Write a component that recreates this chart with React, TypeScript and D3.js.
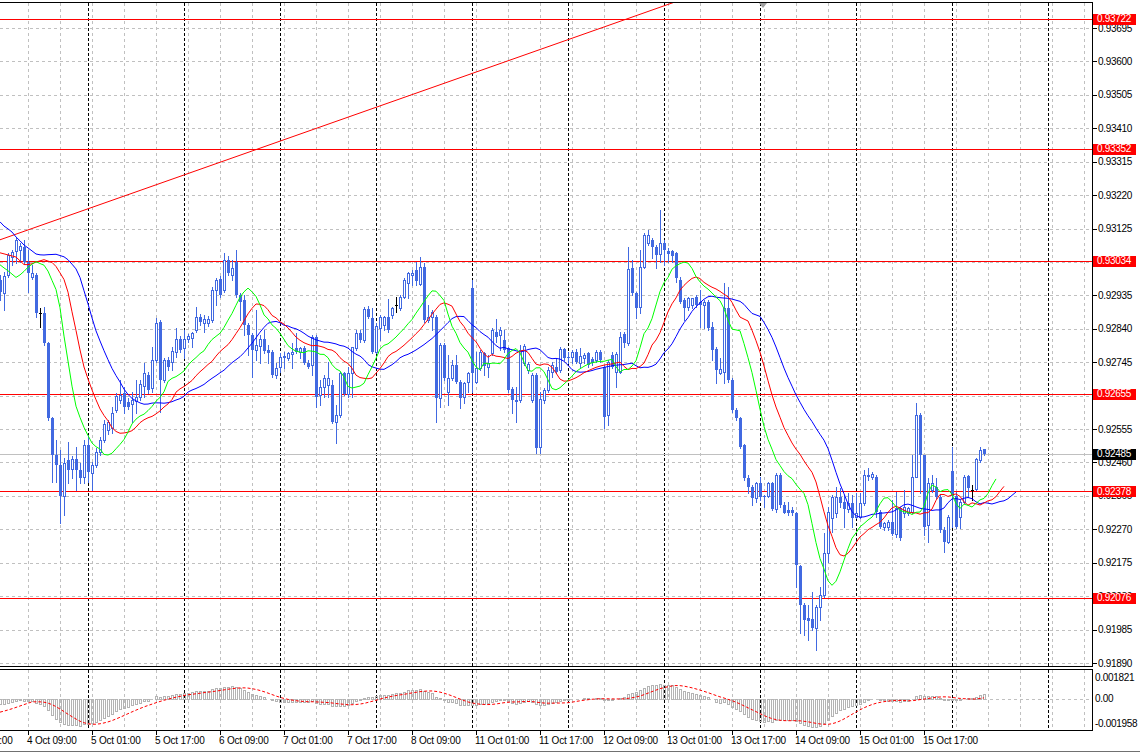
import * as d3 from 'd3';

// H1 bars, 4 Oct 02:00 .. 18 Oct 08:00 (bar index = position on the time axis)
const open = [
  0.92979, 0.92942, 0.92993, 0.93044, 0.93061, 0.93064, 0.93073, 0.9303, 0.92988, 0.92993,
  0.92885, 0.92885, 0.928, 0.92587, 0.92481, 0.92453, 0.92365, 0.92467, 0.92442, 0.9247,
  0.92439, 0.92419, 0.9251, 0.9243, 0.92453, 0.9249, 0.92524, 0.92553, 0.92558, 0.92609,
  0.92638, 0.92658, 0.92632, 0.92626, 0.92635, 0.92646, 0.92678, 0.92709, 0.92672, 0.92752,
  0.9286, 0.92695, 0.92752, 0.92746, 0.92774, 0.92811, 0.92786, 0.92811, 0.92814, 0.92837,
  0.92874, 0.92857, 0.92857, 0.92865, 0.92951, 0.92982, 0.92951, 0.93036, 0.92993, 0.9303,
  0.92936, 0.92922, 0.92851, 0.92823, 0.9278, 0.92791, 0.92811, 0.9278, 0.92774, 0.92709,
  0.92732, 0.92763, 0.92757, 0.92769, 0.92786, 0.92774, 0.92786, 0.92743, 0.92737, 0.92817,
  0.92652, 0.92675, 0.9268, 0.9268, 0.92575, 0.92595, 0.92715, 0.92655, 0.92715, 0.92786,
  0.92828, 0.92808, 0.92897, 0.92871, 0.92774, 0.92842, 0.92851, 0.92874, 0.92879, 0.92908,
  0.92899, 0.92931, 0.92971, 0.92993, 0.93007, 0.92968, 0.93016, 0.92865, 0.92874, 0.92874,
  0.92643, 0.92794, 0.92661, 0.927, 0.92737, 0.92689, 0.92646, 0.92689, 0.92956, 0.92689,
  0.92729, 0.92771, 0.92732, 0.92771, 0.92831, 0.92823, 0.92808, 0.92786, 0.92669, 0.92635,
  0.92638, 0.92743, 0.92723, 0.92638, 0.92709, 0.92504, 0.92638, 0.92666, 0.92718, 0.92732,
  0.92723, 0.92783, 0.9276, 0.9276, 0.92774, 0.92743, 0.92757, 0.92771, 0.92754, 0.92752,
  0.92774, 0.92732, 0.92595, 0.92766, 0.92718, 0.92718, 0.92825, 0.928, 0.93013, 0.92942,
  0.92902, 0.93016, 0.93084, 0.93093, 0.93073, 0.93053, 0.93084, 0.93061, 0.93061, 0.93056,
  0.92979, 0.92922, 0.92902, 0.92908, 0.92931, 0.92916, 0.92908, 0.92916, 0.92845, 0.92783,
  0.92715, 0.92718, 0.92899, 0.92695, 0.92609, 0.92587, 0.9251, 0.92416, 0.9239, 0.92359,
  0.92402, 0.92365, 0.92365, 0.92402, 0.92328, 0.92425, 0.92339, 0.92325, 0.92325, 0.92317,
  0.92166, 0.92055, 0.92018, 0.92015, 0.9199, 0.92049, 0.92083, 0.92203, 0.92302, 0.92317,
  0.92362, 0.92348, 0.92328, 0.92345, 0.92305, 0.92305, 0.92345, 0.92425, 0.92419, 0.92419,
  0.92319, 0.92277, 0.92277, 0.92291, 0.92257, 0.92331, 0.92317, 0.92317, 0.92319, 0.92419,
  0.92595, 0.92481, 0.92282, 0.92382, 0.9239, 0.92362, 0.92268, 0.92234, 0.92436, 0.92365,
  0.92305, 0.92348, 0.92422, 0.92382, 0.92385, 0.92467, 0.92499,
];
const high = [
  0.92993, 0.93002, 0.93056, 0.93064, 0.93098, 0.93084, 0.93093, 0.93064, 0.93022, 0.92999,
  0.92899, 0.92902, 0.92803, 0.92589, 0.92524, 0.92496, 0.92473, 0.92518, 0.92479, 0.92504,
  0.92459, 0.92524, 0.92538, 0.92462, 0.92501, 0.92533, 0.92581, 0.92581, 0.92618, 0.92658,
  0.92695, 0.92675, 0.92643, 0.92661, 0.92695, 0.92695, 0.92743, 0.92718, 0.92788, 0.92871,
  0.92865, 0.92757, 0.9276, 0.92788, 0.92842, 0.9282, 0.92837, 0.92825, 0.92831, 0.92902,
  0.92882, 0.92879, 0.92877, 0.92959, 0.92985, 0.9299, 0.93056, 0.93047, 0.93036, 0.93064,
  0.92942, 0.92936, 0.92857, 0.92828, 0.92894, 0.92823, 0.92837, 0.92794, 0.9278, 0.92743,
  0.92771, 0.92774, 0.92774, 0.928, 0.92828, 0.92788, 0.92791, 0.92752, 0.92823, 0.92823,
  0.92695, 0.92709, 0.92746, 0.92695, 0.92624, 0.92718, 0.92718, 0.92732, 0.92788, 0.92837,
  0.92837, 0.92902, 0.92905, 0.92899, 0.92857, 0.92879, 0.92877, 0.92925, 0.92902, 0.92931,
  0.92936, 0.92985, 0.93002, 0.93007, 0.9303, 0.93044, 0.93027, 0.92908, 0.92894, 0.92879,
  0.928, 0.928, 0.92766, 0.92752, 0.92766, 0.92695, 0.92689, 0.92718, 0.92979, 0.92774,
  0.9278, 0.92774, 0.92766, 0.92842, 0.92868, 0.92845, 0.92837, 0.92788, 0.92675, 0.92675,
  0.92794, 0.92797, 0.92746, 0.92715, 0.92715, 0.92661, 0.92672, 0.92732, 0.92746, 0.92757,
  0.92788, 0.92786, 0.92774, 0.9278, 0.92783, 0.92786, 0.92771, 0.92774, 0.9276, 0.9278,
  0.9278, 0.92737, 0.92752, 0.92774, 0.92774, 0.92831, 0.92831, 0.93073, 0.93036, 0.92945,
  0.93064, 0.93113, 0.93121, 0.93098, 0.93078, 0.93178, 0.93093, 0.9307, 0.93064, 0.93058,
  0.92988, 0.92928, 0.92931, 0.92928, 0.92936, 0.92951, 0.92922, 0.92922, 0.9286, 0.92788,
  0.92757, 0.92971, 0.92959, 0.927, 0.92615, 0.92589, 0.92513, 0.92425, 0.92396, 0.92405,
  0.92419, 0.92368, 0.92405, 0.92405, 0.9243, 0.9243, 0.92348, 0.92348, 0.92334, 0.92319,
  0.92169, 0.92061, 0.92055, 0.92092, 0.92055, 0.92106, 0.9226, 0.92334, 0.92368, 0.9239,
  0.92388, 0.92368, 0.92373, 0.92368, 0.92373, 0.92373, 0.92439, 0.92444, 0.92433, 0.92425,
  0.92325, 0.92291, 0.92297, 0.92354, 0.92376, 0.92334, 0.92382, 0.92334, 0.92481, 0.92629,
  0.92601, 0.92481, 0.92416, 0.92425, 0.92416, 0.92368, 0.92277, 0.92311, 0.92504, 0.92376,
  0.92354, 0.92425, 0.92425, 0.92396, 0.92473, 0.92504, 0.92499,
];
const low = [
  0.92922, 0.92894, 0.92988, 0.93022, 0.93027, 0.9303, 0.93027, 0.92945, 0.92982, 0.92874,
  0.92845, 0.92794, 0.92581, 0.92405, 0.92405, 0.92288, 0.92311, 0.92402, 0.92416, 0.92382,
  0.92402, 0.92402, 0.92405, 0.92382, 0.92447, 0.92481, 0.92518, 0.92541, 0.92544, 0.92604,
  0.92629, 0.92601, 0.92612, 0.92575, 0.92601, 0.92638, 0.92646, 0.92658, 0.92661, 0.92746,
  0.92604, 0.92689, 0.92723, 0.92723, 0.9276, 0.92774, 0.92757, 0.92803, 0.92788, 0.92831,
  0.92851, 0.92831, 0.92848, 0.9286, 0.92908, 0.92931, 0.92945, 0.92993, 0.92979, 0.92931,
  0.92865, 0.92823, 0.92766, 0.92703, 0.92752, 0.92743, 0.92771, 0.92743, 0.92703, 0.927,
  0.92718, 0.92729, 0.92752, 0.92729, 0.92771, 0.92757, 0.9274, 0.92729, 0.92709, 0.92618,
  0.92624, 0.92646, 0.92646, 0.92572, 0.92516, 0.92589, 0.92652, 0.92646, 0.92646, 0.9278,
  0.92803, 0.92803, 0.92871, 0.92771, 0.92771, 0.92808, 0.92837, 0.92831, 0.92871, 0.92888,
  0.92894, 0.92928, 0.92928, 0.92965, 0.92965, 0.92965, 0.9286, 0.9286, 0.92837, 0.92575,
  0.92618, 0.92695, 0.92624, 0.92695, 0.92686, 0.92615, 0.92629, 0.92661, 0.92661, 0.92686,
  0.92723, 0.92709, 0.92703, 0.92766, 0.92803, 0.9278, 0.92774, 0.92661, 0.92601, 0.92575,
  0.92632, 0.92737, 0.92715, 0.92632, 0.92487, 0.92487, 0.92629, 0.92661, 0.92703, 0.92715,
  0.92718, 0.92752, 0.92743, 0.92743, 0.92743, 0.92732, 0.92743, 0.92732, 0.92737, 0.92746,
  0.92746, 0.92558, 0.92567, 0.92729, 0.92675, 0.92715, 0.92788, 0.92794, 0.92936, 0.92871,
  0.92885, 0.93013, 0.93078, 0.93042, 0.93013, 0.9303, 0.93022, 0.9303, 0.9303, 0.92973,
  0.92914, 0.92865, 0.92894, 0.92899, 0.92902, 0.92845, 0.92842, 0.92837, 0.92752, 0.92686,
  0.92712, 0.92686, 0.92689, 0.92604, 0.92581, 0.92501, 0.9241, 0.92374, 0.92339, 0.92348,
  0.92354, 0.92334, 0.92362, 0.92325, 0.92319, 0.92334, 0.92317, 0.92311, 0.92311, 0.92106,
  0.91975, 0.9197, 0.91955, 0.91984, 0.91927, 0.92012, 0.92078, 0.92177, 0.92262, 0.92305,
  0.92334, 0.92277, 0.92319, 0.92277, 0.92302, 0.92302, 0.92339, 0.9241, 0.92413, 0.92305,
  0.92274, 0.92268, 0.92268, 0.92254, 0.92248, 0.9224, 0.92305, 0.92311, 0.92317, 0.92419,
  0.92374, 0.92254, 0.92234, 0.92376, 0.92359, 0.92262, 0.92206, 0.92231, 0.92277, 0.92274,
  0.92274, 0.92345, 0.92362, 0.92354, 0.92382, 0.92462, 0.92481,
];
const close = [
  0.92945, 0.9299, 0.9305, 0.93058, 0.93093, 0.93076, 0.9303, 0.92999, 0.92999, 0.92885,
  0.92885, 0.928, 0.92587, 0.92481, 0.92453, 0.92365, 0.92459, 0.92439, 0.9247, 0.92439,
  0.92416, 0.9251, 0.92433, 0.92453, 0.9249, 0.92524, 0.9257, 0.92575, 0.92601, 0.92649,
  0.92652, 0.92618, 0.92618, 0.92638, 0.92646, 0.92683, 0.92715, 0.92666, 0.92752, 0.92857,
  0.92695, 0.92752, 0.92732, 0.92777, 0.92811, 0.9278, 0.92811, 0.9282, 0.92828, 0.92874,
  0.9286, 0.92868, 0.92868, 0.92951, 0.92979, 0.92936, 0.93036, 0.92999, 0.93013, 0.92936,
  0.92916, 0.92851, 0.92823, 0.9278, 0.92794, 0.92811, 0.92777, 0.92771, 0.92709, 0.92729,
  0.9276, 0.92757, 0.92771, 0.92774, 0.92774, 0.92786, 0.92743, 0.92732, 0.92817, 0.92646,
  0.92675, 0.927, 0.927, 0.92575, 0.92595, 0.92715, 0.92655, 0.92715, 0.92788, 0.92828,
  0.92808, 0.92897, 0.92874, 0.92774, 0.92848, 0.92874, 0.92874, 0.92837, 0.92899, 0.92908,
  0.92931, 0.92979, 0.92999, 0.92999, 0.92976, 0.93016, 0.92865, 0.92874, 0.92888, 0.92643,
  0.92794, 0.927, 0.927, 0.92737, 0.92689, 0.92643, 0.92686, 0.92715, 0.92715, 0.92729,
  0.92774, 0.92735, 0.92743, 0.92837, 0.92817, 0.92837, 0.9278, 0.92666, 0.92638, 0.92638,
  0.9278, 0.92791, 0.9274, 0.92709, 0.92501, 0.9264, 0.92666, 0.92723, 0.92737, 0.92718,
  0.92783, 0.92757, 0.92757, 0.92774, 0.92746, 0.92763, 0.92766, 0.92737, 0.92743, 0.92774,
  0.92752, 0.92589, 0.92746, 0.92732, 0.92769, 0.92817, 0.928, 0.9301, 0.92942, 0.92899,
  0.93016, 0.93107, 0.93107, 0.93073, 0.9305, 0.93084, 0.93064, 0.93053, 0.93047, 0.92985,
  0.92916, 0.92899, 0.92928, 0.92928, 0.92908, 0.92908, 0.92916, 0.92842, 0.9278, 0.92723,
  0.92726, 0.92899, 0.92695, 0.92609, 0.92587, 0.92504, 0.92416, 0.9239, 0.92359, 0.92402,
  0.92362, 0.92362, 0.92402, 0.92328, 0.92425, 0.92339, 0.92317, 0.92317, 0.92317, 0.92169,
  0.92055, 0.92012, 0.92009, 0.9199, 0.92049, 0.92083, 0.92203, 0.92319, 0.92362, 0.92362,
  0.92345, 0.92328, 0.92345, 0.92302, 0.92317, 0.92345, 0.92425, 0.92419, 0.92427, 0.92319,
  0.92277, 0.92288, 0.92291, 0.92257, 0.92331, 0.92245, 0.92334, 0.92331, 0.92419, 0.92595,
  0.92481, 0.92277, 0.92402, 0.92402, 0.92362, 0.92268, 0.92234, 0.92305, 0.92365, 0.92277,
  0.92348, 0.92419, 0.92388, 0.92382, 0.9247, 0.92496, 0.92485,
];

// Alligator values shown before the first bar (jaw 13/8, teeth 8/5, lips 5/3)
const jawLead = [0.93144, 0.93132, 0.93124, 0.93115, 0.93101, 0.9309, 0.93078, 0.9307];
const teethLead = [0.93056, 0.93053, 0.9305, 0.93047, 0.93044];
const lipsLead = [0.93022, 0.93013, 0.93005];
// MACD(12,26,9) state at the left edge: fast EMA, slow EMA, signal
const macdSeed = [0.93035, 0.9306, -0.0009];

const priceTicks = [
  0.93695, 0.936, 0.93505, 0.9341, 0.93315, 0.9322, 0.93125, 0.9303, 0.92935, 0.9284,
  0.92745, 0.9265, 0.92555, 0.9246, 0.92365, 0.9227, 0.92175, 0.9208, 0.91985, 0.9189,
];
const levels = [0.93722, 0.93352, 0.93034, 0.92655, 0.92378, 0.92076];
const bid = 0.92485;
const trendBars = [0, 168];
const trendPrices = [0.93093, 0.93766];
const macdTicks = [0.001821, 0, -0.001958];
const macdTickLabels = ['0.001821', '0.00', '-0.001958'];
const timeLabels = [
  '1 Oct 17:00', '4 Oct 09:00', '5 Oct 01:00', '5 Oct 17:00', '6 Oct 09:00', '7 Oct 01:00',
  '7 Oct 17:00', '8 Oct 09:00', '11 Oct 01:00', '11 Oct 17:00', '12 Oct 09:00', '13 Oct 01:00',
  '13 Oct 17:00', '14 Oct 09:00', '15 Oct 01:00', '15 Oct 17:00',
];
const timeLabelBars = d3.range(-9, 247, 16);
const daySepBars = d3.range(22, 273, 24);
const gridBars = d3.range(7, 273, 8);
const shiftMarkBar = 190.75;

const CANDLE = '#4169e1';
const GRID = '#c0c0c0';
const FONT = '"Liberation Sans", Arial, sans-serif';

const x = d3.scaleLinear().domain([0, 273]).range([0, 1092]);
const y = d3.scaleLinear().domain([0.9189, 0.93695]).range([663, 28]);
const ym = d3.scaleLinear().domain([macdTicks[2], macdTicks[0]]).range([730, 670]);
const crisp = (v: number) => Math.round(v) + 0.5;

// smoothed MA of the median price, drawn shifted forward by lead.length bars
function alligator(lead: number[], period: number) {
  const shift = lead.length;
  const pts: [number, number][] = lead.map((v, j) => [j, v]);
  let s = lead[shift - 1];
  close.forEach((_, t) => {
    s = (s * (period - 1) + (high[t] + low[t]) / 2) / period;
    pts.push([t + shift, s]);
  });
  return pts;
}

const macdMain: number[] = [];
let ef = macdSeed[0];
let es = macdSeed[1];
close.forEach((c) => {
  ef += ((c - ef) * 2) / 13;
  es += ((c - es) * 2) / 27;
  macdMain.push(ef - es);
});
const macdSignal = macdMain.map(
  (_, t) => d3.sum(d3.range(t - 8, t + 1), (k) => (k >= 0 ? macdMain[k] : macdSeed[2])) / 9
);

export default function App() {
  const line = d3
    .line<[number, number]>()
    .x((d) => x(d[0]))
    .y((d) => y(d[1]));
  const sigLine = d3
    .line<number>()
    .x((_, i) => x(i))
    .y((d) => ym(d));
  const trend = d3.scaleLinear().domain(trendBars).range(trendPrices);

  return (
    <svg
      width={1140}
      height={754}
      style={{ position: 'absolute', left: 0, top: 0 }}
      fontFamily={FONT}
      fontSize={10}
    >
      <defs>
        <clipPath id="mainClip">
          <rect x={0} y={3} width={1092} height={663} />
        </clipPath>
        <clipPath id="oscClip">
          <rect x={0} y={670} width={1092} height={60} />
        </clipPath>
      </defs>
      <rect width={1140} height={754} fill="#fff" />

      {/* grid */}
      <g shapeRendering="crispEdges" stroke={GRID} strokeDasharray="3,3">
        {priceTicks.map((p) => (
          <line key={p} x1={0} x2={1092} y1={crisp(y(p))} y2={crisp(y(p))} />
        ))}
        <line x1={0} x2={1092} y1={crisp(ym(0))} y2={crisp(ym(0))} />
        {gridBars.map((b) => (
          <g key={b}>
            <line x1={crisp(x(b))} x2={crisp(x(b))} y1={3} y2={666} />
            <line x1={crisp(x(b))} x2={crisp(x(b))} y1={670} y2={730} />
          </g>
        ))}
      </g>
      <g shapeRendering="crispEdges" stroke="#000" strokeDasharray="3,2">
        {daySepBars.map((b) => (
          <g key={b}>
            <line x1={crisp(x(b))} x2={crisp(x(b))} y1={3} y2={666} />
            <line x1={crisp(x(b))} x2={crisp(x(b))} y1={670} y2={730} />
          </g>
        ))}
      </g>

      <g clipPath="url(#mainClip)">
        {/* levels */}
        <g shapeRendering="crispEdges">
          {levels.map((p) => (
            <line key={p} x1={0} x2={1092} y1={crisp(y(p))} y2={crisp(y(p))} stroke="#ff0000" />
          ))}
          <line x1={0} x2={1092} y1={crisp(y(bid))} y2={crisp(y(bid))} stroke="#c0c0c0" />
        </g>
        <line
          x1={x(trendBars[0])}
          y1={y(trendPrices[0])}
          x2={x(273)}
          y2={y(trend(273))}
          stroke="#ff0000"
        />

        {/* candles */}
        <g shapeRendering="crispEdges">
          {close.map((c, i) => {
            const o = open[i];
            const cx = Math.round(x(i));
            const top = Math.round(y(Math.max(o, c)));
            const bot = Math.round(y(Math.min(o, c)));
            const doji = o === c;
            const col = doji ? '#000' : CANDLE;
            return (
              <g key={i}>
                <line
                  x1={cx + 0.5}
                  x2={cx + 0.5}
                  y1={Math.round(y(high[i]))}
                  y2={Math.round(y(low[i])) + 1}
                  stroke={col}
                />
                {doji ? (
                  <line x1={cx - 1} x2={cx + 2} y1={top + 0.5} y2={top + 0.5} stroke="#000" />
                ) : c < o ? (
                  <rect x={cx - 1} y={top} width={3} height={Math.max(1, bot - top)} fill={CANDLE} />
                ) : (
                  <rect
                    x={cx - 0.5}
                    y={top + 0.5}
                    width={2}
                    height={Math.max(0, bot - top)}
                    fill="#fff"
                    stroke={CANDLE}
                  />
                )}
              </g>
            );
          })}
        </g>

        {/* alligator */}
        <path d={line(alligator(jawLead, 13)) ?? ''} fill="none" stroke="#0000ff" />
        <path d={line(alligator(teethLead, 8)) ?? ''} fill="none" stroke="#ff0000" />
        <path d={line(alligator(lipsLead, 5)) ?? ''} fill="none" stroke="#00ff00" />
      </g>

      {/* MACD */}
      <g clipPath="url(#oscClip)">
        <g shapeRendering="crispEdges">
          {macdMain.map((v, i) => {
            const cx = Math.round(x(i));
            const y0 = Math.round(ym(0));
            const yv = Math.round(ym(v));
            return (
              <rect
                key={i}
                x={cx - 0.5}
                y={Math.min(y0, yv) + 0.5}
                width={2}
                height={Math.abs(yv - y0)}
                fill="none"
                stroke="#b4b4b4"
              />
            );
          })}
        </g>
        <path d={sigLine(macdSignal) ?? ''} fill="none" stroke="#ff0000" strokeDasharray="3,2" />
      </g>

      {/* frames */}
      <g shapeRendering="crispEdges" stroke="#000">
        <line x1={0} x2={1093} y1={2.5} y2={2.5} />
        <line x1={0} x2={1093} y1={666.5} y2={666.5} />
        <line x1={0} x2={1093} y1={669.5} y2={669.5} />
        <line x1={0} x2={1093} y1={730.5} y2={730.5} />
        <line x1={1092.5} x2={1092.5} y1={2} y2={667} />
        <line x1={1092.5} x2={1092.5} y1={669} y2={731} />
        <line x1={0} x2={1140} y1={751.5} y2={751.5} stroke="#707070" />
      </g>
      <polygon
        points={`${x(shiftMarkBar) - 4},3 ${x(shiftMarkBar) + 4},3 ${x(shiftMarkBar)},8`}
        fill="#a0a0a0"
      />

      {/* price axis */}
      <g>
        {priceTicks.map((p) => (
          <g key={p}>
            <line x1={1093} x2={1097} y1={crisp(y(p))} y2={crisp(y(p))} stroke="#000" shapeRendering="crispEdges" />
            <text x={1098} y={y(p) + 3.5} fill="#000" letterSpacing={-0.3}>
              {p.toFixed(5)}
            </text>
          </g>
        ))}
        {levels.map((p) => (
          <g key={p}>
            <rect x={1093} y={Math.round(y(p)) - 5} width={43} height={11} fill="#ff0000" />
            <text x={1097} y={y(p) + 3.5} fill="#fff" letterSpacing={-0.3}>
              {p.toFixed(5)}
            </text>
          </g>
        ))}
        <rect x={1093} y={Math.round(y(bid)) - 5} width={43} height={11} fill="#000" />
        <text x={1097} y={y(bid) + 3.5} fill="#fff" letterSpacing={-0.3}>
          {bid.toFixed(5)}
        </text>
        {macdTicks.map((v, i) => (
          <text key={v} x={1095} y={[677, ym(0), 723][i] + 3.5} fill="#000" letterSpacing={-0.3}>
            {macdTickLabels[i]}
          </text>
        ))}
      </g>

      {/* time axis */}
      <g>
        {timeLabelBars.map((b, i) => (
          <g key={b}>
            <line x1={crisp(x(b))} x2={crisp(x(b))} y1={731} y2={735} stroke="#000" shapeRendering="crispEdges" />
            <text x={x(b) - 1} y={744} fill="#000" letterSpacing={-0.2}>
              {timeLabels[i]}
            </text>
          </g>
        ))}
      </g>
    </svg>
  );
}
